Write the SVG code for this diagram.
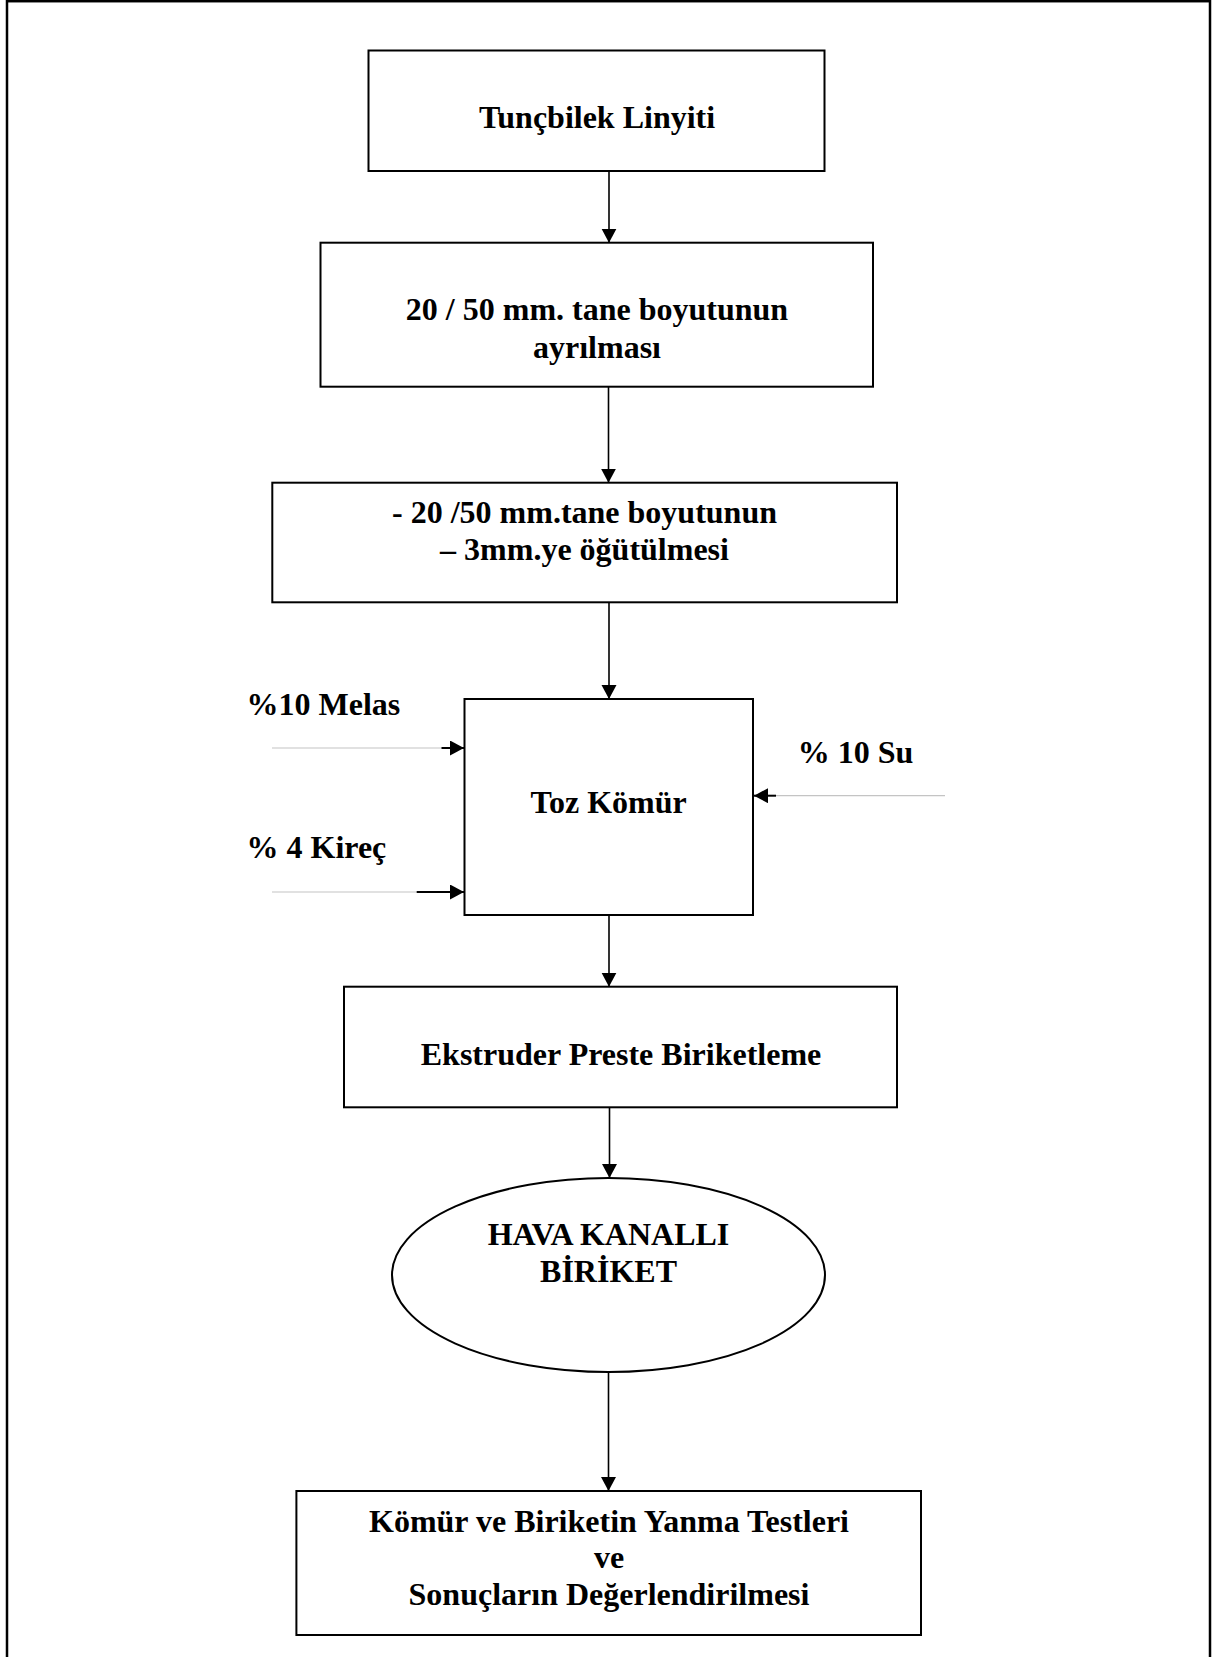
<svg xmlns="http://www.w3.org/2000/svg" width="1212" height="1657" viewBox="0 0 1212 1657">
<defs>
<style>
.box{fill:#fff;stroke:#000;stroke-width:2}
.t{font-family:"Liberation Serif","Times New Roman",serif;font-weight:bold;font-size:32px;fill:#000;text-anchor:middle}
.l{font-family:"Liberation Serif","Times New Roman",serif;font-weight:bold;font-size:32px;fill:#000}
.c{stroke:#000;stroke-width:1.6;fill:none}
.g{stroke:#c4c4c4;stroke-width:1.2;fill:none}
.k{stroke:#000;stroke-width:2;fill:none}
</style>
<marker id="ah" markerUnits="userSpaceOnUse" markerWidth="16" markerHeight="16" refX="14" refY="7.5" orient="auto">
<path d="M0,0 L14,7.5 L0,15 z" fill="#000"/>
</marker>
</defs>
<rect x="0" y="0" width="1212" height="1657" fill="#fff"/>
<rect x="7" y="1.2" width="1203" height="1700" fill="none" stroke="#000" stroke-width="2.5"/>

<g id="n1">
<rect class="box" x="368.5" y="50.5" width="456" height="120.5"/>
<text class="t" x="597" y="128">Tunçbilek Linyiti</text>
</g>
<g id="n2">
<rect class="box" x="320.5" y="242.7" width="552.5" height="144"/>
<text class="t" x="597" y="320">20 / 50 mm. tane boyutunun</text>
<text class="t" x="597" y="357.5">ayrılması</text>
</g>
<g id="n3">
<rect class="box" x="272.3" y="482.7" width="624.7" height="119.6"/>
<text class="t" x="584.5" y="523">- 20 /50 mm.tane boyutunun</text>
<text class="t" x="584.5" y="560">– 3mm.ye öğütülmesi</text>
</g>
<g id="n4">
<rect class="box" x="464.5" y="699" width="288.5" height="216"/>
<text class="t" x="608.7" y="813">Toz Kömür</text>
</g>
<g id="n5">
<rect class="box" x="344" y="986.7" width="553" height="120.6"/>
<text class="t" x="621" y="1065">Ekstruder Preste Biriketleme</text>
</g>
<g id="n6">
<ellipse class="box" cx="608.5" cy="1275" rx="216.5" ry="97"/>
<text class="t" x="608.5" y="1245">HAVA KANALLI</text>
<text class="t" x="608.5" y="1281.5">BİRİKET</text>
</g>
<g id="n7">
<rect class="box" x="296.4" y="1491" width="624.6" height="144"/>
<text class="t" x="609" y="1531.5">Kömür ve Biriketin Yanma Testleri</text>
<text class="t" x="609" y="1568">ve</text>
<text class="t" x="609" y="1605">Sonuçların Değerlendirilmesi</text>
</g>
<g id="lbl-melas"><text class="l" x="246.5" y="715">%10 Melas</text></g>
<g id="lbl-kirec"><text class="l" x="246.5" y="858">% 4 Kireç</text></g>
<g id="lbl-su"><text class="l" x="797.7" y="762.7">% 10 Su</text></g>

<g id="connectors">
<line class="c" x1="609" y1="171" x2="609" y2="242.7" marker-end="url(#ah)"/>
<line class="c" x1="608.5" y1="386.7" x2="608.5" y2="482.7" marker-end="url(#ah)"/>
<line class="c" x1="609" y1="602.3" x2="609" y2="699" marker-end="url(#ah)"/>
<line class="c" x1="609" y1="915" x2="609" y2="986.7" marker-end="url(#ah)"/>
<line class="c" x1="609.5" y1="1107.3" x2="609.5" y2="1178" marker-end="url(#ah)"/>
<line class="c" x1="608.5" y1="1372" x2="608.5" y2="1491" marker-end="url(#ah)"/>
<line class="g" x1="272" y1="748" x2="442" y2="748"/>
<line class="k" x1="441.5" y1="748" x2="464" y2="748" marker-end="url(#ah)"/>
<line class="g" x1="272" y1="892" x2="417" y2="892"/>
<line class="k" x1="416.7" y1="892" x2="464" y2="892" marker-end="url(#ah)"/>
<line class="g" x1="945" y1="795.7" x2="776" y2="795.7"/>
<line class="k" x1="776" y1="795.7" x2="754" y2="795.7" marker-end="url(#ah)"/>
</g>
</svg>
